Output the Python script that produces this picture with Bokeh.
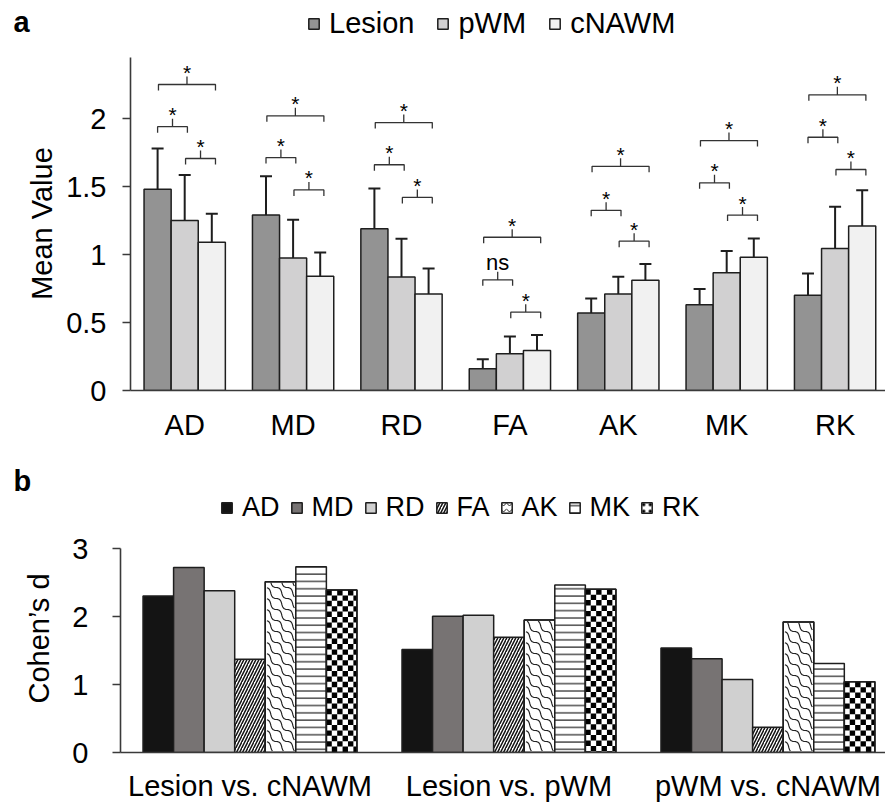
import numpy as np
from bokeh.plotting import figure
from bokeh.layouts import column, row
from bokeh.models import (ColumnDataSource, Range1d, FixedTicker, NumeralTickFormatter,
                          Whisker, TeeHead, Legend, LegendItem)
from bokeh.core.properties import value
from bokeh.embed import file_html
from bokeh.resources import INLINE

FONT = "Liberation Sans"

# ---------------- data: panel a ----------------
metrics = ["AD", "MD", "RD", "FA", "AK", "MK", "RK"]
tissues = ["Lesion", "pWM", "cNAWM"]
lesion = [1.48, 1.29, 1.19, 0.16, 0.57, 0.63, 0.70]
pwm = [1.25, 0.975, 0.835, 0.27, 0.71, 0.865, 1.045]
cnawm = [1.09, 0.84, 0.71, 0.295, 0.81, 0.98, 1.21]
lesion_err = [0.30, 0.285, 0.295, 0.07, 0.107, 0.117, 0.16]
pwm_err = [0.335, 0.28, 0.28, 0.127, 0.126, 0.16, 0.306]
cnawm_err = [0.21, 0.175, 0.187, 0.114, 0.121, 0.138, 0.263]

# significance brackets (height of bracket, label)
sig_lesion_pwm_y = [1.94, 1.713, 1.66, 0.814, 1.325, 1.527, 1.862]
sig_lesion_pwm = ["*", "*", "*", "ns", "*", "*", "*"]
sig_pwm_cnawm_y = [1.706, 1.475, 1.42, 0.576, 1.098, 1.29, 1.625]
sig_pwm_cnawm = ["*", "*", "*", "*", "*", "*", "*"]
sig_lesion_cnawm_y = [2.25, 2.02, 1.97, 1.127, 1.648, 1.838, 2.174]
sig_lesion_cnawm = ["*", "*", "*", "*", "*", "*", "*"]

# ---------------- data: panel b ----------------
comparisons = ["Lesion vs. cNAWM", "Lesion vs. pWM", "pWM vs. cNAWM"]
d_AD = [2.30, 1.515, 1.535]
d_MD = [2.72, 2.005, 1.38]
d_RD = [2.38, 2.02, 1.075]
d_FA = [1.37, 1.695, 0.37]
d_AK = [2.51, 1.95, 1.92]
d_MK = [2.73, 2.465, 1.31]
d_RK = [2.39, 2.40, 1.04]

panel_letters = ["a", "b"]
y_titles = ["Mean Value", "Cohen’s d"]

EDGE = "#1e1e1e"
AXIS = "#3a3a3a"
STRIP_W = 62


def base_axis_style(ax, label_size):
    ax.axis_line_color = AXIS
    ax.axis_line_width = 1.6
    ax.major_tick_line_color = AXIS
    ax.major_tick_line_width = 1.6
    ax.minor_tick_line_color = None
    ax.major_label_text_font = FONT
    ax.major_label_text_font_size = label_size
    ax.major_label_text_color = "#000000"


def side_strip(height, frame_h, bottom, letter, letter_base, title, title_x, title_y):
    """Left strip holding the panel letter and the rotated y-axis title (pixel space,
    measured downward from the top of the strip)."""
    s = figure(width=STRIP_W, height=height, output_backend="svg", toolbar_location=None,
               x_range=Range1d(0, STRIP_W), y_range=Range1d(frame_h, 0),
               min_border_left=0, min_border_right=0, min_border_top=0,
               min_border_bottom=bottom, x_axis_location=None, y_axis_location=None)
    s.outline_line_color = None
    s.xgrid.visible = False
    s.ygrid.visible = False
    s.text(x=[13], y=[letter_base], text=[letter], text_font=value(FONT),
           text_font_size="29px", text_font_style="bold", text_baseline="alphabetic",
           text_color="#000000")
    s.text(x=[title_x], y=[title_y], text=[title], text_font=value(FONT),
           text_font_size="29px", text_align="center", text_baseline="middle",
           angle=np.pi / 2, text_color="#000000")
    return s


# =============== Panel a ===============
A_W, A_H = 885 - STRIP_W, 460
A_LEFT, A_BOTTOM = 130 - STRIP_W, 70
A_XMAX = 6.965
A_PXY = 136.0
pa = figure(width=A_W, height=A_H, output_backend="svg", toolbar_location=None,
            x_range=Range1d(0, A_XMAX), y_range=Range1d(0, (A_H - A_BOTTOM) / A_PXY),
            min_border_left=A_LEFT, min_border_right=0, min_border_top=0,
            min_border_bottom=A_BOTTOM)
pa.outline_line_color = None
pa.xgrid.visible = False
pa.ygrid.visible = False

idx = np.arange(len(metrics)) + 0.5
groups = [(tissues[0], lesion, lesion_err, "#939393"),
          (tissues[1], pwm, pwm_err, "#d1d0d1"),
          (tissues[2], cnawm, cnawm_err, "#f1f1f1")]
items_a = []
for k, (name, vals, errs, col) in enumerate(groups):
    vals = np.array(vals)
    errs = np.array(errs)
    src = ColumnDataSource(dict(x=idx + (k - 1) * 0.25, top=vals,
                                upper=vals + errs, lower=vals - errs))
    r = pa.vbar(x="x", top="top", bottom=0, width=0.25, source=src,
                fill_color=col, line_color=EDGE, line_width=1.5)
    items_a.append(LegendItem(label=name, renderers=[r]))
    pa.add_layout(Whisker(source=src, base="x", upper="upper", lower="lower",
                          line_color=EDGE, line_width=2,
                          upper_head=TeeHead(size=12, line_color=EDGE, line_width=2),
                          lower_head=TeeHead(size=12, line_color=EDGE, line_width=2)))

# brackets
down = 6 / A_PXY
up = 8 / A_PXY
b_xs, b_ys = [], []
star_x, star_y, ns_x, ns_y = [], [], [], []
for ys, labels, (o1, o2) in [(sig_lesion_pwm_y, sig_lesion_pwm, (-0.25, 0.025)),
                             (sig_pwm_cnawm_y, sig_pwm_cnawm, (0.008, 0.284)),
                             (sig_lesion_cnawm_y, sig_lesion_cnawm, (-0.242, 0.284))]:
    for c, yv, lab in zip(idx, ys, labels):
        x1, x2 = c + o1, c + o2
        xm = (x1 + x2) / 2
        b_xs.append([x1, x1, xm, xm, xm, x2, x2])
        b_ys.append([yv - down, yv, yv, yv + up, yv, yv, yv - down])
        if lab == "ns":
            ns_x.append(xm); ns_y.append(yv)
        else:
            star_x.append(xm); star_y.append(yv)
pa.multi_line(xs=b_xs, ys=b_ys, line_color="#333333", line_width=1.3)
pa.text(x=star_x, y=star_y, text=["*"] * len(star_x), text_font=value(FONT),
        text_font_size="21px", text_align="center", text_baseline="alphabetic",
        y_offset=-12, text_color="#000000")
pa.text(x=ns_x, y=ns_y, text=["ns"] * len(ns_x), text_font=value(FONT),
        text_font_size="22px", text_align="center", text_baseline="alphabetic",
        y_offset=-17, text_color="#000000")

ya = pa.yaxis[0]
base_axis_style(ya, "29px")
ya.ticker = FixedTicker(ticks=[0, 0.5, 1, 1.5, 2])
ya.formatter = NumeralTickFormatter(format="0.[0]")
ya.bounds = (0, 2.45)
ya.major_label_standoff = 16
ya.major_tick_out = 8
ya.major_tick_in = 0

xa = pa.xaxis[0]
base_axis_style(xa, "29px")
xa.ticker = FixedTicker(ticks=list(idx))
xa.major_label_overrides = {float(c): m for c, m in zip(idx, metrics)}
xa.major_tick_out = 0
xa.major_tick_in = 0
xa.major_label_standoff = 18

leg_a = Legend(items=items_a, orientation="horizontal", location=(177, 350),
               glyph_width=13, glyph_height=13, label_standoff=9, spacing=22,
               padding=0, margin=0, border_line_color=None, background_fill_alpha=0,
               label_text_font=FONT, label_text_font_size="29px", label_text_color="#000000")
pa.add_layout(leg_a)

strip_a = side_strip(A_H, A_H - A_BOTTOM, A_BOTTOM, panel_letters[0], 21,
                     y_titles[0], 41, 223)

# =============== Panel b ===============
B_W, B_H = 885 - STRIP_W, 344
B_LEFT, B_BOTTOM = 120 - STRIP_W, 52
B_XMAX = 2.954
B_PXY = 68.0
pb = figure(width=B_W, height=B_H, output_backend="svg", toolbar_location=None,
            x_range=Range1d(0, B_XMAX), y_range=Range1d(0, (B_H - B_BOTTOM) / B_PXY),
            min_border_left=B_LEFT, min_border_right=0, min_border_top=0,
            min_border_bottom=B_BOTTOM)
pb.outline_line_color = None
pb.xgrid.visible = False
pb.ygrid.visible = False
B_PXX = (B_W - B_LEFT) / B_XMAX

gidx = np.arange(len(comparisons)) + 0.5
series_b = [d_AD, d_MD, d_RD, d_FA, d_AK, d_MK, d_RK]
styles_b = [
    dict(fill_color="#141414"),
    dict(fill_color="#777373"),
    dict(fill_color="#d0d0d0"),
    dict(fill_color="white", hatch_pattern="right_diagonal_line", hatch_color="#111111",
         hatch_scale=6, hatch_weight=1.5),
    dict(fill_color="white"),
    dict(fill_color="white", hatch_pattern="horizontal_line", hatch_color="#222222",
         hatch_scale=7.3, hatch_weight=1.2),
    dict(fill_color="white"),
]
legend_hatch = {
    "AK": dict(hatch_pattern="horizontal_wave", hatch_color="#222222", hatch_scale=6,
               hatch_weight=1),
    "RK": dict(hatch_pattern="dot", hatch_color="#000000", hatch_scale=6.5,
               hatch_weight=3.5),
}
BW = 0.118


def checker_cells(x0, x1, top, cell=5.4):
    cw, ch = cell / B_PXX, cell / B_PXY
    L, R, Bo, T = [], [], [], []
    nc = int(np.ceil((x1 - x0) / cw - 1e-9))
    nr = int(np.ceil(top / ch - 1e-9))
    for i in range(nc):
        for j in range(nr):
            if (i + j) % 2 == 1:
                continue
            L.append(x0 + i * cw); R.append(min(x0 + (i + 1) * cw, x1))
            Bo.append(max(top - (j + 1) * ch, 0.0))
            T.append(top - j * ch)
    return L, R, Bo, T


def wave_paths(x0, x1, top, T=11.0):
    W = (x1 - x0) * B_PXX
    H = top * B_PXY
    t = np.linspace(0, 1, 14)
    bx = T * (2.25 * t * (1 - t) ** 2 + 0.75 * t ** 2 * (1 - t) + t ** 3)
    by = T * ((1 - t) ** 3 + 3 * (1 - t) ** 2 * t)
    out_x, out_y = [], []
    nm = int(W / T) + 2
    for c in range(0, int((W + H) / T) + 3):
        us = np.concatenate([m * T + bx for m in range(nm)])
        vs = np.concatenate([(c - m - 1) * T + by for m in range(nm)])
        inside = (us >= 0.8) & (us <= W - 0.8) & (vs >= 0.8) & (vs <= H - 0.8)
        run_x, run_y = [], []
        for u, v, ok in zip(us, vs, inside):
            if ok:
                run_x.append(x0 + u / B_PXX); run_y.append(v / B_PXY)
            elif run_x:
                if len(run_x) > 1:
                    out_x.append(run_x); out_y.append(run_y)
                run_x, run_y = [], []
        if len(run_x) > 1:
            out_x.append(run_x); out_y.append(run_y)
    return out_x, out_y


items_b = []
for j, (m, vals, st) in enumerate(zip(metrics, series_b, styles_b)):
    xs = gidx + (j - 3) * BW
    src = ColumnDataSource(dict(x=xs, top=vals))
    r = pb.vbar(x="x", top="top", bottom=0, width=BW, source=src,
                line_color=EDGE, line_width=1.5, **st)
    rens = [r]
    if m == "RK":
        L, R, Bo, T = [], [], [], []
        for xc, tv in zip(xs, vals):
            a, b_, c_, d_ = checker_cells(xc - BW / 2, xc + BW / 2, tv)
            L += a; R += b_; Bo += c_; T += d_
        pb.quad(left=L, right=R, bottom=Bo, top=T, fill_color="#000000", line_color=None)
    if m == "AK":
        WX, WY = [], []
        for xc, tv in zip(xs, vals):
            px, py = wave_paths(xc - BW / 2, xc + BW / 2, tv)
            WX += px; WY += py
        pb.multi_line(xs=WX, ys=WY, line_color="#222222", line_width=1.2)
    if m in legend_hatch:
        pb.vbar(x="x", top="top", bottom=0, width=BW, source=src,
                fill_color=None, line_color=EDGE, line_width=1.5)
        lr = pb.vbar(x="x", top="top", bottom=0, width=0, source=src,
                     fill_color=None, line_color=None, **legend_hatch[m])
        rens.append(lr)
    items_b.append(LegendItem(label=m, renderers=rens))

yb = pb.yaxis[0]
base_axis_style(yb, "29px")
yb.ticker = FixedTicker(ticks=[0, 1, 2, 3])
yb.bounds = (0, 3)
yb.major_label_standoff = 24
yb.major_tick_out = 8
yb.major_tick_in = 0

xb = pb.xaxis[0]
base_axis_style(xb, "29px")
xb.ticker = FixedTicker(ticks=list(gidx))
xb.major_label_overrides = {float(c): m for c, m in zip(gidx, comparisons)}
xb.major_tick_out = 0
xb.major_tick_in = 0
xb.major_label_standoff = 17

leg_b = Legend(items=items_b, orientation="horizontal", location=(100, 229),
               glyph_width=13, glyph_height=13, label_standoff=9, spacing=10,
               padding=0, margin=0, border_line_color=None, background_fill_alpha=0,
               label_text_font=FONT, label_text_font_size="27px", label_text_color="#000000")
pb.add_layout(leg_b)

# strip b: screen y 460..804 -> local 0..344
strip_b = side_strip(B_H, B_H - B_BOTTOM, B_BOTTOM, panel_letters[1], 20,
                     y_titles[1], 38, 638 - 460)

layout = column(row(strip_a, pa, spacing=0), row(strip_b, pb, spacing=0), spacing=0)
open("out.html", "w").write(file_html(layout, INLINE))
